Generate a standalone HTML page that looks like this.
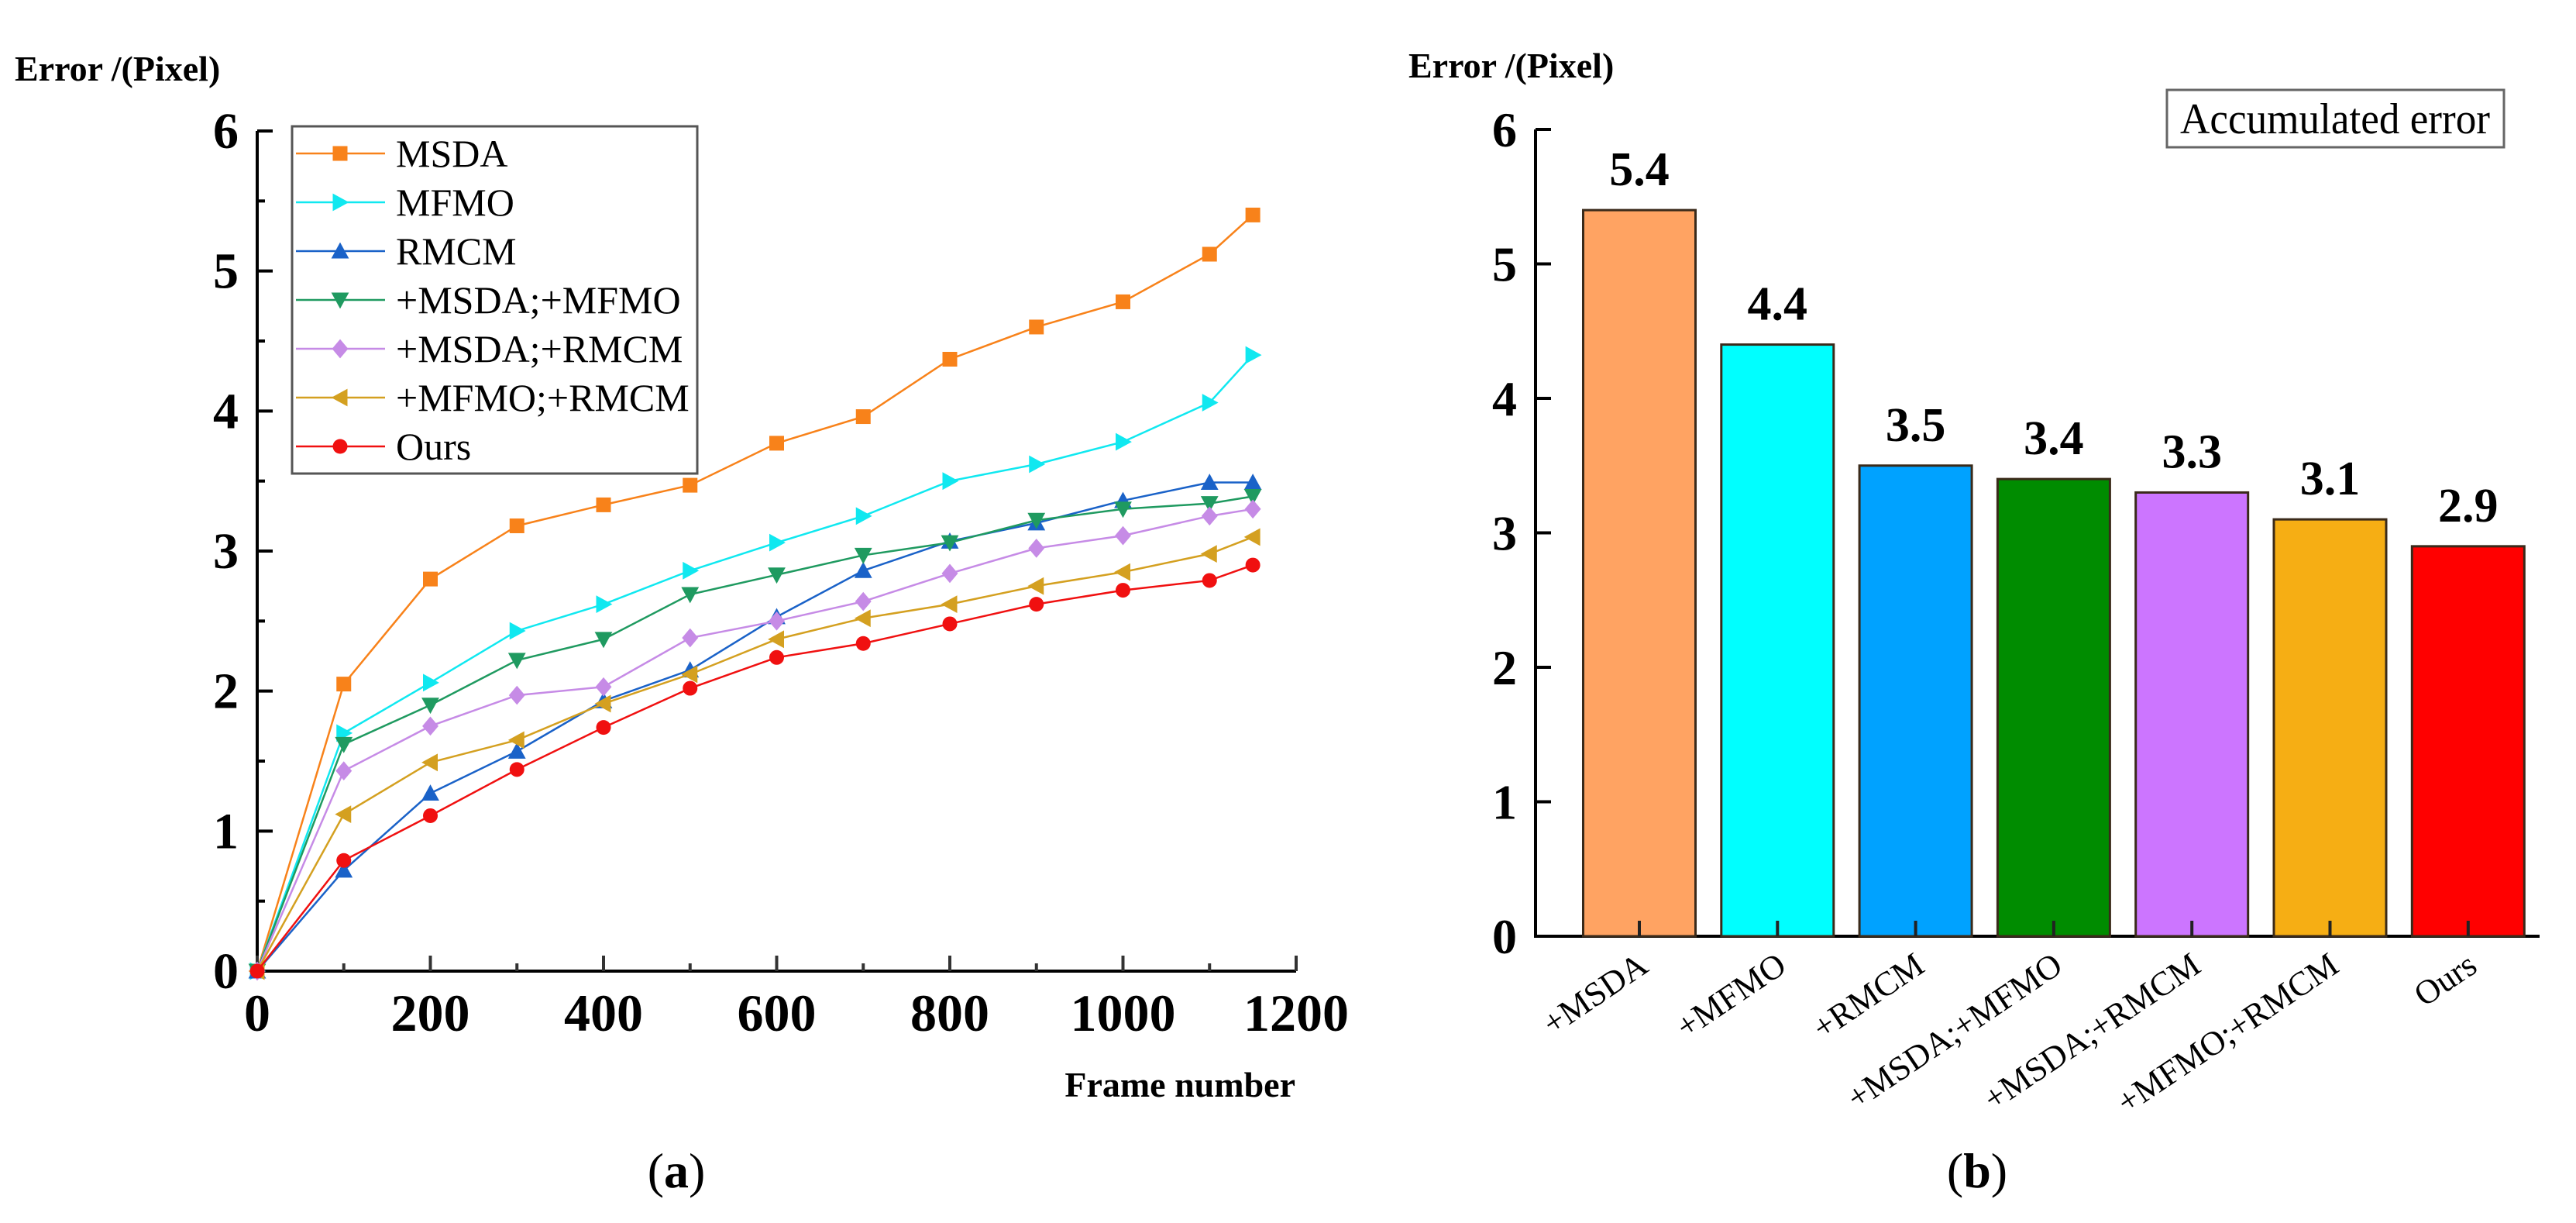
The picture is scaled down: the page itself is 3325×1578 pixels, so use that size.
<!DOCTYPE html>
<html><head><meta charset="utf-8"><style>
html,body{margin:0;padding:0;background:#fff;}
svg{display:block;font-family:"Liberation Serif",serif;}
svg text{font-family:"Liberation Serif",serif;}
</style></head><body>
<svg id="fig" width="3325" height="1578" viewBox="0 0 3325 1578" font-family="Liberation Serif, serif">
<g id="chartA"></g>
<g id="chartB"></g>
</svg>
<script>
// ---- Chart (a) data ----
const frames = [0,100,200,300,400,500,600,700,800,900,1000,1100,1150];
const seriesNames = ["MSDA","MFMO","RMCM","+MSDA;+MFMO","+MSDA;+RMCM","+MFMO;+RMCM","Ours"];
const msda   = [0,2.05,2.8,3.18,3.33,3.47,3.77,3.96,4.37,4.6,4.78,5.12,5.4];
const mfmo   = [0,1.7,2.06,2.43,2.62,2.86,3.06,3.25,3.5,3.62,3.78,4.06,4.4];
const rmcm   = [0,0.72,1.27,1.57,1.93,2.15,2.53,2.86,3.07,3.2,3.36,3.49,3.49];
const msdaMfmo = [0,1.62,1.9,2.22,2.37,2.69,2.83,2.97,3.06,3.22,3.3,3.34,3.39];
const msdaRmcm = [0,1.43,1.75,1.97,2.03,2.38,2.5,2.64,2.84,3.02,3.11,3.25,3.3];
const mfmoRmcm = [0,1.12,1.49,1.65,1.91,2.12,2.37,2.52,2.62,2.75,2.85,2.98,3.1];
const ours   = [0,0.79,1.11,1.44,1.74,2.02,2.24,2.34,2.48,2.62,2.72,2.79,2.9];
const xTicksA = [0,200,400,600,800,1000,1200];
const yTicksA = [0,1,2,3,4,5,6];
// ---- Chart (b) data ----
const barCats = ["+MSDA","+MFMO","+RMCM","+MSDA;+MFMO","+MSDA;+RMCM","+MFMO;+RMCM","Ours"];
const barVals = [5.4,4.4,3.5,3.4,3.3,3.1,2.9];
const barLabels = ["5.4","4.4","3.5","3.4","3.3","3.1","2.9"];
const yTicksB = [0,1,2,3,4,5,6];

const NS="http://www.w3.org/2000/svg";
function mk(parent,tag,attrs,text){const e=document.createElementNS(NS,tag);for(const k in attrs)e.setAttribute(k,attrs[k]);if(tag==='text')e.setAttribute('font-family','Liberation Serif, serif');if(text!==undefined)e.textContent=text;parent.appendChild(e);return e;}

// ===== Chart A =====
const A=document.getElementById('chartA');
const ax0=332, ax1=1673, ay0=1253, ay6=169;
const xA=v=>ax0+(v/1200)*(ax1-ax0);
const yA=v=>ay0-(v/6)*(ay0-ay6);
const colorsA=["#f8821a","#10e8f0","#1a62c8","#1f9a60","#c68be6","#d4a020","#f01010"];
const markersA=["square","right","up","down","diamond","left","circle"];
const dataA=[msda,mfmo,rmcm,msdaMfmo,msdaRmcm,mfmoRmcm,ours];
function marker(g,type,cx,cy,c){
  const s=9.5;let e;
  if(type==="square")e=mk(g,'rect',{x:cx-s,y:cy-s,width:2*s,height:2*s,fill:c});
  else if(type==="circle")e=mk(g,'circle',{cx:cx,cy:cy,r:s,fill:c});
  else if(type==="diamond")e=mk(g,'polygon',{points:`${cx},${cy-s*1.3} ${cx+s*1.1},${cy} ${cx},${cy+s*1.3} ${cx-s*1.1},${cy}`,fill:c});
  else if(type==="up")e=mk(g,'polygon',{points:`${cx},${cy-s*1.2} ${cx+s*1.2},${cy+s} ${cx-s*1.2},${cy+s}`,fill:c});
  else if(type==="down")e=mk(g,'polygon',{points:`${cx},${cy+s*1.2} ${cx+s*1.2},${cy-s} ${cx-s*1.2},${cy-s}`,fill:c});
  else if(type==="right")e=mk(g,'polygon',{points:`${cx+s*1.2},${cy} ${cx-s},${cy-s*1.2} ${cx-s},${cy+s*1.2}`,fill:c});
  else e=mk(g,'polygon',{points:`${cx-s*1.2},${cy} ${cx+s},${cy-s*1.2} ${cx+s},${cy+s*1.2}`,fill:c});
  return e;
}
const axA=mk(A,'path',{d:`M${ax0},${ay6} V${ay0} H${ax1}`,fill:'none',stroke:'#000','stroke-width':4});


yTicksA.forEach(t=>{
  const tk=mk(A,'line',{x1:ax0,x2:ax0+20,y1:yA(t),y2:yA(t),stroke:'#000','stroke-width':4});
  
  
  if(t<6){const m=mk(A,'line',{x1:ax0,x2:ax0+10,y1:yA(t+0.5),y2:yA(t+0.5),stroke:'#000','stroke-width':4});
  
  }
  const l=mk(A,'text',{x:ax0-24,y:yA(t)+22,'text-anchor':'end','font-size':66,'font-weight':'bold'},String(t));
  
  
});
xTicksA.forEach(t=>{
  const tk=mk(A,'line',{x1:xA(t),x2:xA(t),y1:ay0,y2:ay0-20,stroke:'#333','stroke-width':4});
  
  
  if(t<1200){const m=mk(A,'line',{x1:xA(t+100),x2:xA(t+100),y1:ay0,y2:ay0-10,stroke:'#333','stroke-width':4});
  
  }
  const l=mk(A,'text',{x:xA(t),y:1330,'text-anchor':'middle','font-size':68,'font-weight':'bold'},String(t));
  
  
});
dataA.forEach((vals,i)=>{
  const g=mk(A,'g',{});
  
  
  const pts=vals.map((v,j)=>`${xA(frames[j])},${yA(v)}`).join(' ');
  const pl=mk(g,'polyline',{points:pts,fill:'none',stroke:colorsA[i],'stroke-width':2.5});
  
  
  vals.forEach((v,j)=>{const m=marker(g,markersA[i],xA(frames[j]),yA(v),colorsA[i]);
    
    });
});
const lg=mk(A,'g',{});


mk(lg,'rect',{x:377,y:163,width:523,height:448,fill:'#fff',stroke:'#555','stroke-width':3});
seriesNames.forEach((n,i)=>{
  const yy=198+i*63;
  const e=mk(lg,'g',{});
  
  
  mk(e,'line',{x1:382,x2:497,y1:yy,y2:yy,stroke:colorsA[i],'stroke-width':2.5});
  marker(e,markersA[i],439,yy,colorsA[i]);
  mk(e,'text',{x:511,y:yy+17,'font-size':50},n);
});
let t;
t=mk(A,'text',{x:19,y:104,'font-size':46,'font-weight':'bold'},'Error /(Pixel)');


t=mk(A,'text',{x:1672,y:1415,'text-anchor':'end','font-size':46,'font-weight':'bold'},'Frame number');


t=mk(A,'text',{x:873,y:1532,'text-anchor':'middle','font-size':64},'');


mk(t,'tspan',{},'(');mk(t,'tspan',{'font-weight':'bold'},'a');mk(t,'tspan',{},')');

// ===== Chart B =====
const B=document.getElementById('chartB');
const bx0=1982, bx1=3278, by0=1208, by6=167;
const yB=v=>by0-(v/6)*(by0-by6);
const band=178.3, firstC=2116, bw=145;
const xB=i=>firstC+i*band;
const colorsB=["#ffa362","#00ffff","#00a2ff","#008c00","#cc75ff","#f6ae14","#ff0000"];
const axB=mk(B,'path',{d:`M${bx0},${by6} V${by0} H${bx1}`,fill:'none',stroke:'#000','stroke-width':4});


yTicksB.forEach(v=>{
  const tk=mk(B,'line',{x1:bx0,x2:bx0+20,y1:yB(v),y2:yB(v),stroke:'#000','stroke-width':4});
  
  
  const l=mk(B,'text',{x:bx0-24,y:yB(v)+22,'text-anchor':'end','font-size':64,'font-weight':'bold'},String(v));
  
  
});
barVals.forEach((v,i)=>{
  const r=mk(B,'rect',{x:xB(i)-bw/2,y:yB(v),width:bw,height:by0-yB(v),fill:colorsB[i],stroke:'#3a2a1a','stroke-width':3});
  
  
  const tk=mk(B,'line',{x1:xB(i),x2:xB(i),y1:by0,y2:by0-20,stroke:'#222','stroke-width':4});
  
  
  const vl=mk(B,'text',{x:xB(i),y:yB(v)-32,'text-anchor':'middle','font-size':62,'font-weight':'bold'},barLabels[i]);
  
  
  const cx=xB(i)+14, cy=1252;
  const cl=mk(B,'text',{x:cx,y:cy,'text-anchor':'end','font-size':44,transform:`rotate(-34 ${cx} ${cy})`},barCats[i]);
  
  
});
const bl=mk(B,'g',{});


mk(bl,'rect',{x:2797,y:116,width:435,height:74,fill:'#fff',stroke:'#666','stroke-width':3});
mk(bl,'text',{x:3014,y:172,'text-anchor':'middle','font-size':56,textLength:400,lengthAdjust:'spacingAndGlyphs'},'Accumulated error');
t=mk(B,'text',{x:1818,y:100,'font-size':46,'font-weight':'bold'},'Error /(Pixel)');


t=mk(B,'text',{x:2552,y:1532,'text-anchor':'middle','font-size':64},'');


mk(t,'tspan',{},'(');mk(t,'tspan',{'font-weight':'bold'},'b');mk(t,'tspan',{},')');
</script>
</body></html>
